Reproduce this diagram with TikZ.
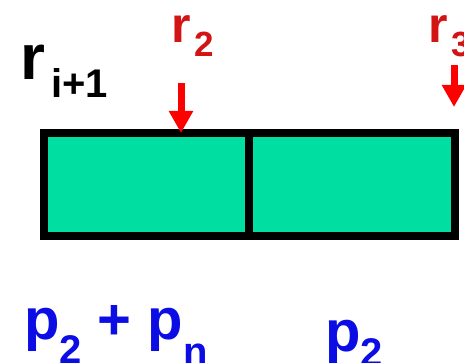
\documentclass[tikz,border=0pt]{standalone}
\usepackage{fontspec}
\setmainfont{Liberation Sans}
\usetikzlibrary{arrows.meta,positioning}
\definecolor{cellgreen}{RGB}{0,222,162}
\definecolor{ptrred}{RGB}{255,0,0}
\definecolor{labred}{RGB}{210,20,20}
\definecolor{labblue}{RGB}{12,12,228}
% lowered index: drop (pt), size (pt), text
\newcommand{\idx}[3]{\raisebox{-#1pt}{\fontsize{#2}{#2}\selectfont #3}}
\begin{document}
\begin{tikzpicture}[x=1pt, y=1pt, font=\bfseries,
  cell/.style={draw, line width=8pt, fill=cellgreen, minimum width=205pt, minimum height=103pt, inner sep=0pt, outer sep=0pt},
  ptr/.style={-{Triangle[length=22pt, width=23pt]}, line width=7pt, draw=ptrred},
  lab/.style={inner sep=0pt, anchor=base west}]
  \useasboundingbox (0,0) rectangle (464,363);
  % the two cells
  \node[cell] (left)  at (146.5,178.5) {};
  \node[cell, minimum width=206pt] (right) at (352,178.5) {};
  % labels above
  \node[lab, font=\bfseries\fontsize{64}{64}\selectfont] (ri) at (20,283) {r\kern6pt\idx{18}{40}{i+1}};
  \node[lab, text=labred, font=\bfseries\fontsize{50}{50}\selectfont] (rtwo) at (171,320) {r\kern4pt\idx{14}{35}{2}};
  \node[lab, text=labred, font=\bfseries\fontsize{50}{50}\selectfont] (rthree) at (428,320) {r\kern4pt\idx{14}{35}{3}};
  % pointers
  \coordinate (ptwo) at (181,280);
  \coordinate (pthree) at (454,298);
  \coordinate (pthreetip) at (454,256);
  \draw[ptr] (ptwo) -- (ptwo |- left.north);
  \draw[ptr] (pthree) -- (pthreetip);
  % labels below
  \node[lab, text=labblue, font=\bfseries\fontsize{58}{58}\selectfont] (pleft) at (24,23) {p\idx{24}{40}{2} + p\idx{26}{40}{n}};
  \node[lab, text=labblue, font=\bfseries\fontsize{58}{58}\selectfont] (pright) at (325,11) {p\idx{15}{40}{2}};
\end{tikzpicture}
\end{document}
